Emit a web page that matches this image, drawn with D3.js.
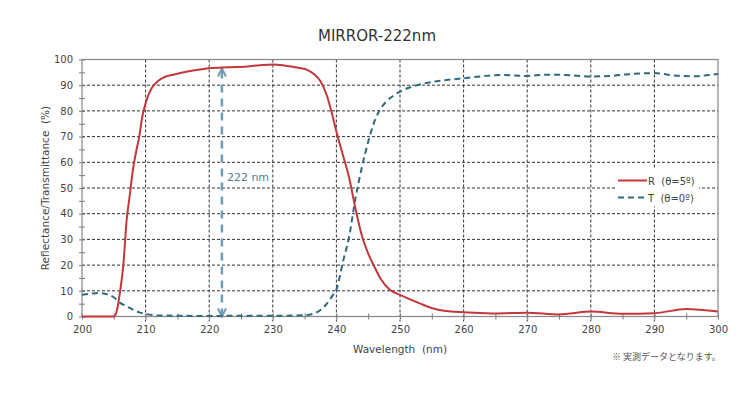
<!DOCTYPE html>
<html>
<head>
<meta charset="utf-8">
<script src="https://cdn.jsdelivr.net/npm/d3@7"></script>
<style>
  body { margin: 0; background: #fff; }
  text { font-family: "DejaVu Sans", Verdana, sans-serif; }
  .grid line { stroke: #333; stroke-dasharray: 3,2; stroke-width: 1; }
  .axis path, .axis line { stroke: #777; }
  .axis text { fill: #444; font-size: 10px; }
</style>
</head>
<body>
<svg width="750" height="394"></svg>
<script>
// R (theta = 5 deg), reflectance
var rWave = [200, 205, 205.5, 206, 206.5, 207, 207.5, 208, 208.5, 209, 209.5, 210, 210.5, 211, 212, 213, 214.5, 216, 218, 220, 223, 226, 228, 230, 232, 234, 235.5, 236.5, 237.5, 238.5, 239.3, 240, 241, 242, 243, 244, 245, 246, 247, 248.4, 250, 253, 256, 258, 260, 265, 270, 275, 280, 285, 290, 295, 300];
var rVals = [0, 0, 2.5, 10, 20, 37, 47, 57, 64, 70, 78, 83, 86.5, 89, 91.7, 93.2, 94.2, 95, 95.9, 96.6, 97, 97.3, 97.8, 98.1, 97.6, 96.8, 95.9, 94.3, 91.5, 86, 79, 72, 63, 54, 42, 31.5, 24.5, 19.2, 14.5, 10.4, 8.4, 5.2, 2.6, 1.9, 1.7, 1.2, 1.5, 0.8, 1.9, 1.1, 1.3, 2.9, 1.9];

// T (theta = 0 deg), transmittance
var tWave = [200, 201.5, 202.6, 204, 205, 206, 207, 208, 209, 210, 212, 215, 220, 225, 230, 235, 236.5, 237.5, 238.5, 239.5, 240, 241, 242, 243, 244, 245, 246, 247, 248, 249, 250, 252, 254, 256, 258, 260, 263, 266, 270, 273, 276, 280, 283, 286, 290, 293, 296, 300];
var tVals = [8.5, 8.9, 9.1, 8.6, 7.5, 5.3, 4, 2.7, 1.6, 1, 0.4, 0.3, 0.2, 0.3, 0.3, 0.5, 1.2, 2.5, 5, 8.5, 10.5, 21, 31, 46, 58, 68, 76, 81, 84, 86, 87.5, 89.5, 90.8, 91.6, 92.2, 92.7, 93.5, 94, 93.6, 94.1, 94, 93.4, 93.6, 94.3, 94.7, 93.8, 93.5, 94.4];

var xTicks = [200, 210, 220, 230, 240, 250, 260, 270, 280, 290, 300];
var yTicks = [0, 10, 20, 30, 40, 50, 60, 70, 80, 90, 100];
var legendLabels = ["R\u00a0 (\u03b8=5\u00ba)", "T\u00a0 (\u03b8=0\u00ba)"];
var markWave = 222, markTop = 96.5;

var margin = {top: 59.5, left: 82},
    width = 636,
    height = 257;

var red = "#c4373d", teal = "#2e6a7e", arrowCol = "#6f9db5";

var svg = d3.select("svg");
var g = svg.append("g")
    .attr("transform", "translate(" + margin.left + "," + margin.top + ")");

var x = d3.scaleLinear().domain([200, 300]).range([0, width]),
    y = d3.scaleLinear().domain([0, 100]).range([height, 0]);

// grid
g.append("g").attr("class", "grid")
  .selectAll("line").data(xTicks.slice(1, -1)).enter().append("line")
    .attr("x1", function(d) { return x(d); }).attr("x2", function(d) { return x(d); })
    .attr("y1", 0).attr("y2", height + 5);
g.append("g").attr("class", "grid")
  .selectAll("line").data(yTicks.slice(1, -1)).enter().append("line")
    .attr("y1", function(d) { return y(d); }).attr("y2", function(d) { return y(d); })
    .attr("x1", 0).attr("x2", width);

// axes, ticks cross the axis line every 5
var yMinor = d3.range(0, 101, 5), xMinor = d3.range(200, 301, 5);
g.append("g").attr("class", "axis")
  .call(d3.axisLeft(y).tickValues(yMinor).tickSizeInner(3).tickSizeOuter(0).tickPadding(6)
        .tickFormat(function(d) { return d % 10 === 0 ? d : ""; }));
g.append("g").attr("class", "axis")
  .call(d3.axisLeft(y).tickValues(yMinor).tickSize(-3).tickFormat(""));
g.append("g").attr("class", "axis")
  .attr("transform", "translate(0," + height + ")")
  .call(d3.axisBottom(x).tickValues(xMinor).tickSizeInner(3).tickSizeOuter(0).tickPadding(6)
        .tickFormat(function(d) { return d % 10 === 0 ? d : ""; }));
g.append("g").attr("class", "axis")
  .attr("transform", "translate(0," + height + ")")
  .call(d3.axisBottom(x).tickValues(xMinor).tickSize(-3).tickFormat(""));
g.selectAll(".axis .domain").remove();

// frame
g.append("rect").attr("width", width).attr("height", height)
  .attr("fill", "none").attr("stroke", "#888").attr("stroke-width", 1.2);

// legend box (hides grid)
g.append("rect").attr("x", 533).attr("y", 109).attr("width", 84).attr("height", 38).attr("fill", "#fff");

var lineR = d3.line().curve(d3.curveMonotoneX)
    .x(function(d, i) { return x(rWave[i]); }).y(function(d) { return y(d); });
var lineT = d3.line().curve(d3.curveMonotoneX)
    .x(function(d, i) { return x(tWave[i]); }).y(function(d) { return y(d); });

// 222 nm marker arrow
var ax = x(markWave), aTop = y(markTop), aBot = y(0);
g.append("line").attr("x1", ax).attr("x2", ax).attr("y1", aTop + 2).attr("y2", aBot - 2)
  .attr("stroke", arrowCol).attr("stroke-width", 2.5).attr("stroke-dasharray", "8,6");
g.append("path").attr("d", "M" + (ax - 4) + "," + (aTop + 8) + "L" + ax + "," + aTop + "L" + (ax + 4) + "," + (aTop + 8))
  .attr("fill", "none").attr("stroke", arrowCol).attr("stroke-width", 2);
g.append("path").attr("d", "M" + (ax - 4) + "," + (aBot - 8) + "L" + ax + "," + aBot + "L" + (ax + 4) + "," + (aBot - 8))
  .attr("fill", "none").attr("stroke", arrowCol).attr("stroke-width", 2);
g.append("text").attr("x", ax + 5).attr("y", 121).text(markWave + " nm")
  .attr("fill", "#4f8198").style("font-size", "11px");

g.append("path").datum(tVals).attr("d", lineT)
  .attr("fill", "none").attr("stroke", teal).attr("stroke-width", 2).attr("stroke-dasharray", "6,4");
g.append("path").datum(rVals).attr("d", lineR)
  .attr("fill", "none").attr("stroke", red).attr("stroke-width", 2);

// legend
var leg = g.selectAll(".leg").data(legendLabels).enter().append("g")
    .attr("transform", function(d, i) { return "translate(536," + (121 + i * 17) + ")"; });
leg.append("line").attr("x1", 0).attr("x2", 29).attr("y1", 0).attr("y2", 0)
  .attr("stroke", function(d, i) { return i ? teal : red; })
  .attr("stroke-width", 2)
  .attr("stroke-dasharray", function(d, i) { return i ? "6,4" : null; });
leg.append("text").attr("x", 30).attr("y", 4).text(function(d) { return d; })
  .attr("fill", "#444").style("font-size", "10px");

// titles
svg.append("text").attr("x", 377).attr("y", 41).attr("text-anchor", "middle")
  .text("MIRROR-222nm").attr("fill", "#333").style("font-size", "15px");
svg.append("text").attr("x", 400).attr("y", 353).attr("text-anchor", "middle")
  .text("Wavelength\u00a0 (nm)").attr("fill", "#444").style("font-size", "10.5px");
svg.append("text").attr("transform", "translate(49,188) rotate(-90)").attr("text-anchor", "middle")
  .text("Reflectance/Transmittance\u00a0 (%)").attr("fill", "#444").style("font-size", "10.5px");
svg.append("text").attr("x", 612).attr("y", 360)
  .text("\u203b 実測データとなります。").attr("fill", "#555")
  .style("font-family", "'Noto Sans CJK JP', sans-serif").style("font-size", "9px");
</script>
</body>
</html>
